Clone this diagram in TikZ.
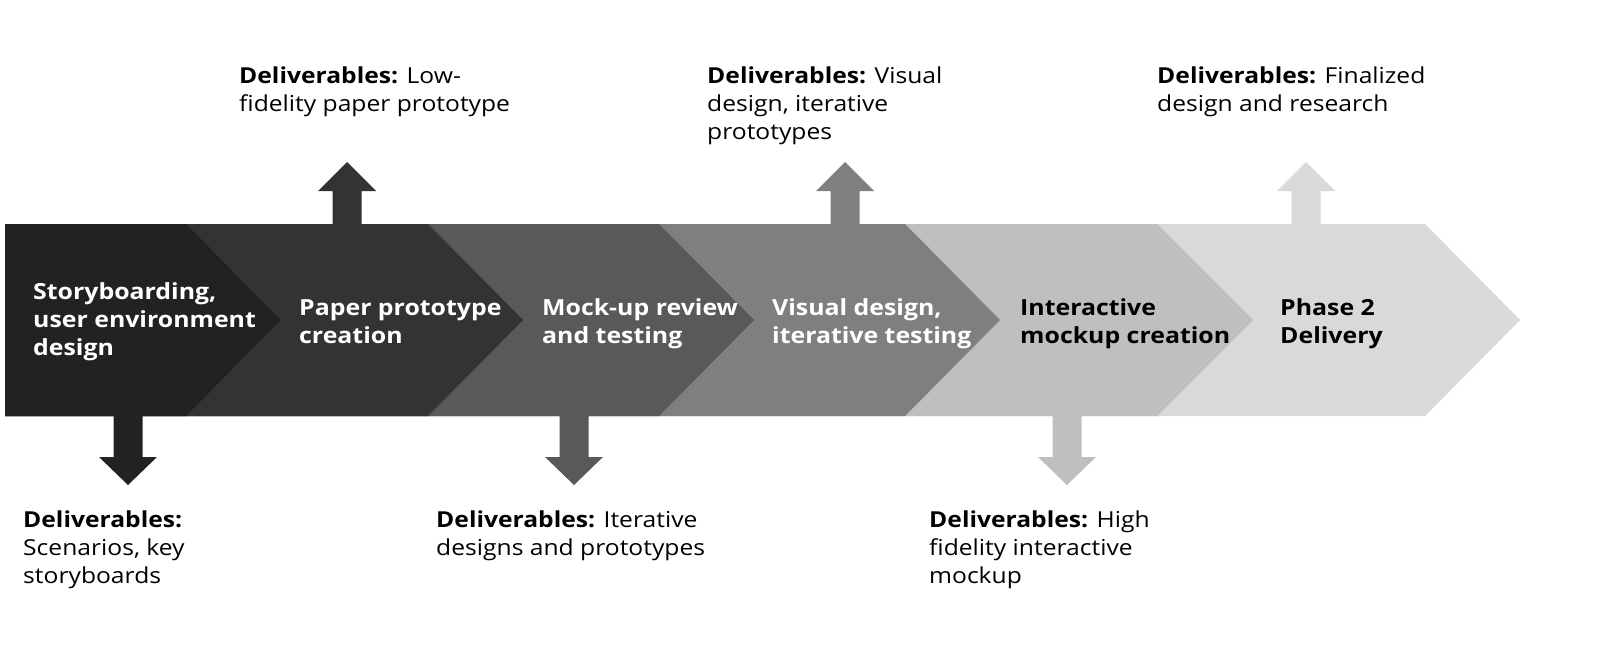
\documentclass[tikz,border=0pt]{standalone}
\usepackage{fontspec}
\setmainfont{Open Sans}[FakeStretch=1.12]
\definecolor{c1}{HTML}{222222}
\definecolor{c2}{HTML}{333333}
\definecolor{c3}{HTML}{595959}
\definecolor{c4}{HTML}{7F7F7F}
\definecolor{c5}{HTML}{BFBFBF}
\definecolor{c6}{HTML}{D9D9D9}
% chevron: left x, start of point, tip x, colour
\newcommand\drawchevron[4]{%
  \fill[#4] (#1,224) -- (#2,224) -- (#3,320) -- (#2,416) -- (#1,416) -- cycle;}
% block arrow pointing up from the band, centred at x
\newcommand\uparrowshape[2]{%
  \fill[#2] (#1-14.5,224) -- (#1-14.5,191) -- (#1-29,191) -- (#1,162)
    -- (#1+29,191) -- (#1+14.5,191) -- (#1+14.5,224) -- cycle;}
% block arrow pointing down from the band, centred at x
\newcommand\downarrowshape[2]{%
  \fill[#2] (#1-14.5,416) -- (#1-14.5,457) -- (#1-29,457) -- (#1,485)
    -- (#1+29,457) -- (#1+14.5,457) -- (#1+14.5,416) -- cycle;}
\newcommand\firstline{\rule{0pt}{18pt}}
\begin{document}
\begin{tikzpicture}[x=1pt,y=-1pt,
  stage/.style={anchor=north west, align=left, inner sep=0pt,
    font=\bfseries\fontsize{22.2}{27.9}\selectfont},
  deliv/.style={anchor=north west, align=left, inner sep=0pt, text=black,
    font=\fontsize{22}{28}\selectfont},
]
\useasboundingbox (0,0) rectangle (1617,664);
\fill[white] (0,0) rectangle (1617,664);

% chevron band, lightest first so each stage overlaps the next
\drawchevron{5}{1425}{1520}{c6}
\drawchevron{5}{1157}{1253}{c5}
\drawchevron{5}{905}{1000}{c4}
\drawchevron{5}{659}{754}{c3}
\drawchevron{5}{428}{523}{c2}
\drawchevron{5}{186}{281}{c1}

% deliverable arrows
\uparrowshape{347}{c2}
\uparrowshape{845}{c4}
\uparrowshape{1306}{c6}
\downarrowshape{128}{c1}
\downarrowshape{574}{c3}
\downarrowshape{1067}{c5}

% stage labels
\node[stage, text=white] (s1) at (33,281.3) {\firstline Storyboarding,\\user environment\\design};
\node[stage, text=white] (s2) at (299,297) {\firstline Paper prototype\\creation};
\node[stage, text=white] (s3) at (542,297) {\firstline Mock-up review\\and testing};
\node[stage, text=white] (s4) at (772,297) {\firstline Visual design,\\iterative testing};
\node[stage, text=black] (s5) at (1020,297) {\firstline Interactive\\mockup creation};
\node[stage, text=black] (s6) at (1280,297) {\firstline Phase 2\\Delivery};

% deliverables above the band
\node[deliv] (d2) at (239,65) {\firstline\textbf{Deliverables:} Low-\\fidelity paper prototype};
\node[deliv] (d4) at (707,65) {\firstline\textbf{Deliverables:} Visual\\design, iterative\\prototypes};
\node[deliv] (d6) at (1157,65) {\firstline\textbf{Deliverables:} Finalized\\design and research};

% deliverables below the band
\node[deliv] (d1) at (23,509) {\firstline\textbf{Deliverables:}\\Scenarios, key\\storyboards};
\node[deliv] (d3) at (436,509) {\firstline\textbf{Deliverables:} Iterative\\designs and prototypes};
\node[deliv] (d5) at (929,509) {\firstline\textbf{Deliverables:} High\\fidelity interactive\\mockup};
\end{tikzpicture}
\end{document}
